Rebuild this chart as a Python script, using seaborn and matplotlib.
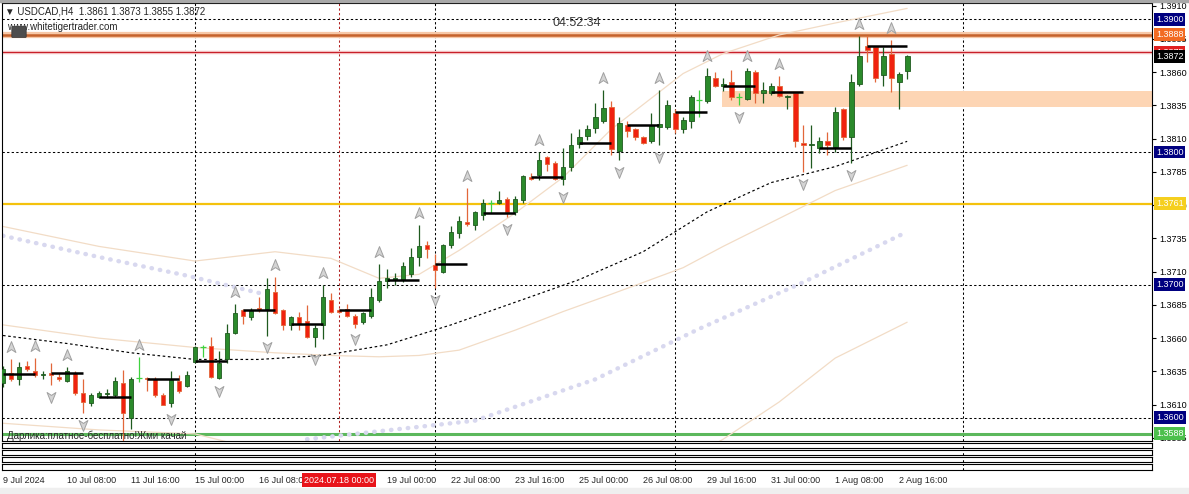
import numpy as np
import matplotlib
matplotlib.use("Agg")
import matplotlib.pyplot as plt
import seaborn as sns
from matplotlib.path import Path
from matplotlib.patches import Rectangle, FancyBboxPatch

# --- data (USDCAD H4, 9 Jul - 2 Aug 2024) ---
opens = [1.3626, 1.3634, 1.3629, 1.3639, 1.3635, 1.3632, 1.3634, 1.3631, 1.3628, 1.3634,
         1.3619, 1.3611, 1.3616, 1.3618, 1.3617, 1.3626, 1.3600, 1.3630, 1.3630, 1.3629,
         1.3617, 1.3611, 1.3628, 1.3624, 1.3642, 1.3653, 1.3654, 1.3630, 1.3644, 1.3664,
         1.3681, 1.3676, 1.3683, 1.3682, 1.3695, 1.3681, 1.3670, 1.3676, 1.3673, 1.3661,
         1.3670, 1.3689, 1.3681, 1.3682, 1.3677, 1.3672, 1.3677, 1.3689, 1.3703, 1.3704,
         1.3704, 1.3708, 1.3721, 1.3730, 1.3715, 1.3710, 1.3730, 1.3739, 1.3747, 1.3745,
         1.3753, 1.3762, 1.3762, 1.3765, 1.3755, 1.3764, 1.3781, 1.3783, 1.3796, 1.3792,
         1.3780, 1.3789, 1.3806, 1.3812, 1.3818, 1.3823, 1.3834, 1.3801, 1.3820, 1.3817,
         1.3811, 1.3808, 1.3819, 1.3819, 1.3829, 1.3817, 1.3823, 1.3839, 1.3838, 1.3856,
         1.3850, 1.3853, 1.3841, 1.3840, 1.3860, 1.3844, 1.3844, 1.3850, 1.3841, 1.3844,
         1.3807, 1.3805, 1.3803, 1.3808, 1.3804, 1.3832, 1.3811, 1.3851, 1.3880, 1.3879,
         1.3858, 1.3874, 1.3853, 1.3861]
highs = [1.3639, 1.3644, 1.3642, 1.3643, 1.3645, 1.3635, 1.3641, 1.3634, 1.3638, 1.3635,
         1.3629, 1.3619, 1.3620, 1.3622, 1.3631, 1.3636, 1.3631, 1.3646, 1.3631, 1.3631,
         1.3619, 1.3635, 1.3632, 1.3635, 1.3654, 1.3655, 1.3661, 1.3650, 1.3671, 1.3686,
         1.3682, 1.3683, 1.3691, 1.3705, 1.3706, 1.3682, 1.3677, 1.3680, 1.3685, 1.3670,
         1.3700, 1.3694, 1.3682, 1.3686, 1.3678, 1.3680, 1.3698, 1.3716, 1.3712, 1.3709,
         1.3717, 1.3728, 1.3745, 1.3733, 1.3723, 1.3731, 1.3744, 1.3752, 1.3773, 1.3756,
         1.3765, 1.3764, 1.3771, 1.3766, 1.3767, 1.3783, 1.3784, 1.3800, 1.3797, 1.3793,
         1.3803, 1.3814, 1.3817, 1.3820, 1.3837, 1.3847, 1.3838, 1.3826, 1.3823, 1.3818,
         1.3812, 1.3829, 1.3847, 1.3839, 1.3832, 1.3826, 1.3843, 1.3847, 1.3863, 1.3860,
         1.3856, 1.3862, 1.3844, 1.3863, 1.3862, 1.3853, 1.3852, 1.3857, 1.3843, 1.3845,
         1.3820, 1.3820, 1.3811, 1.3815, 1.3834, 1.3833, 1.3859, 1.3887, 1.3887, 1.3880,
         1.3879, 1.3884, 1.3860, 1.3873]
lows = [1.3623, 1.3628, 1.3625, 1.3635, 1.3631, 1.3629, 1.3625, 1.3628, 1.3627, 1.3617,
        1.3604, 1.3609, 1.3615, 1.3615, 1.3616, 1.3582, 1.3592, 1.3627, 1.3620, 1.3616,
        1.3611, 1.3608, 1.3619, 1.3623, 1.3641, 1.3646, 1.3630, 1.3629, 1.3641, 1.3663,
        1.3671, 1.3674, 1.3680, 1.3662, 1.3678, 1.3666, 1.3666, 1.3666, 1.3660, 1.3653,
        1.3659, 1.3679, 1.3679, 1.3676, 1.3668, 1.3671, 1.3675, 1.3687, 1.3698, 1.3700,
        1.3702, 1.3706, 1.3714, 1.3720, 1.3698, 1.3709, 1.3728, 1.3735, 1.3744, 1.3741,
        1.3749, 1.3754, 1.3761, 1.3751, 1.3753, 1.3762, 1.3779, 1.3779, 1.3786, 1.3779,
        1.3775, 1.3786, 1.3803, 1.3809, 1.3814, 1.3822, 1.3798, 1.3794, 1.3811, 1.3809,
        1.3806, 1.3807, 1.3805, 1.3817, 1.3814, 1.3814, 1.3818, 1.3826, 1.3837, 1.3849,
        1.3846, 1.3839, 1.3835, 1.3839, 1.3837, 1.3837, 1.3843, 1.3841, 1.3832, 1.3804,
        1.3785, 1.3788, 1.3799, 1.3798, 1.3800, 1.3809, 1.3792, 1.3850, 1.3868, 1.3853,
        1.3850, 1.3845, 1.3832, 1.3855]
closes = [1.3637, 1.3629, 1.3638, 1.3637, 1.3632, 1.3633, 1.3632, 1.3629, 1.3635, 1.3619,
          1.3612, 1.3617, 1.3619, 1.3619, 1.3628, 1.3604, 1.3629, 1.3630, 1.3629, 1.3617,
          1.3610, 1.3629, 1.3620, 1.3632, 1.3653, 1.3653, 1.3631, 1.3641, 1.3664, 1.3679,
          1.3677, 1.3681, 1.3681, 1.3697, 1.3679, 1.3670, 1.3676, 1.3671, 1.3661, 1.3668,
          1.3691, 1.3680, 1.3680, 1.3677, 1.3671, 1.3679, 1.3691, 1.3703, 1.3705, 1.3705,
          1.3714, 1.3721, 1.3729, 1.3727, 1.3711, 1.3730, 1.3740, 1.3748, 1.3746, 1.3755,
          1.3762, 1.3762, 1.3764, 1.3755, 1.3765, 1.3782, 1.3780, 1.3794, 1.3791, 1.3780,
          1.3789, 1.3805, 1.3811, 1.3817, 1.3826, 1.3833, 1.3802, 1.3822, 1.3816, 1.3811,
          1.3807, 1.3820, 1.3821, 1.3835, 1.3817, 1.3824, 1.3841, 1.3839, 1.3857, 1.3850,
          1.3851, 1.3841, 1.3841, 1.3861, 1.3844, 1.3847, 1.3850, 1.3842, 1.3842, 1.3808,
          1.3805, 1.3806, 1.3808, 1.3805, 1.3830, 1.3811, 1.3853, 1.3872, 1.3877, 1.3856,
          1.3872, 1.3856, 1.3859, 1.3872]

# daily open segments (black bars)
day_start_bars = [0, 6, 12, 18, 24, 30, 36, 42, 48, 54, 60, 66, 72, 78, 84, 90, 96, 102, 108]
day_open_levels = [1.3633, 1.3634, 1.3616, 1.3629, 1.3643, 1.3681, 1.3671, 1.3681, 1.3704, 1.3716,
                   1.3754, 1.3781, 1.3807, 1.3820, 1.3830, 1.3850, 1.3845, 1.3803, 1.3880]

# fractal arrows
up_fractal_bars = [1, 4, 8, 17, 29, 34, 40, 47, 52, 58, 67, 75, 82, 88, 93, 97, 107, 111]
down_fractal_bars = [6, 10, 15, 21, 27, 33, 39, 44, 54, 63, 70, 77, 82, 92, 100, 106]

# slow moving average (black dashed)
ma_bars = [0, 8, 16, 24, 32, 40, 48, 56, 64, 72, 80, 88, 96, 104, 113]
ma_values = [1.3662, 1.3656, 1.3649, 1.3644, 1.3644, 1.3647, 1.3655, 1.3670, 1.3687, 1.3704,
             1.3725, 1.3755, 1.3777, 1.3789, 1.3808]

# bollinger style bands (thin beige)
band_bars = [0, 12, 24, 34, 41, 47, 52, 57, 64, 70, 76, 85, 90, 97, 104, 113]
band_upper = [1.3744, 1.3729, 1.3718, 1.3725, 1.3720, 1.3705, 1.3708, 1.3726, 1.3754, 1.3781,
              1.3817, 1.3859, 1.3874, 1.3888, 1.3897, 1.3908]
band_middle = [1.3670, 1.3660, 1.3653, 1.3649, 1.3647, 1.3646, 1.3647, 1.3651, 1.3666, 1.3680,
               1.3693, 1.3713, 1.3729, 1.3750, 1.3771, 1.3790]
band_lower = [1.3596, 1.3591, 1.3588, 1.3573, 1.3574, 1.3580, 1.3580, 1.3576, 1.3578, 1.3579,
              1.3569, 1.3567, 1.3584, 1.3612, 1.3645, 1.3672]

# lavender dotted envelope
dots_left_bars = [0, 12, 23, 32]
dots_left_values = [1.3737, 1.3721, 1.3707, 1.3694]
dots_right_bars = [38, 50, 59, 74, 87, 100, 113]
dots_right_values = [1.3584, 1.3592, 1.3598, 1.3629, 1.3667, 1.3702, 1.3740]

# horizontal levels
grid_prices = [1.3600, 1.3700, 1.3800, 1.3900]
resistance_price = 1.3888
red_line_price = 1.3875
yellow_price = 1.3761
green_price = 1.3588
last_price = 1.3872
zone_low, zone_high, zone_start = 1.3834, 1.3846, 89.9

axis_prices = [1.3585, 1.3610, 1.3635, 1.3660, 1.3685, 1.3710, 1.3735, 1.3760, 1.3785,
               1.3810, 1.3835, 1.3860, 1.3885, 1.3910]

tick_bars = [0, 8, 16, 24, 32, 40, 48, 56, 64, 72, 80, 88, 96, 104, 112]
tick_labels = ["9 Jul 2024", "10 Jul 08:00", "11 Jul 16:00", "15 Jul 00:00", "16 Jul 08:00",
               "17 Jul 16:00", "19 Jul 00:00", "22 Jul 08:00", "23 Jul 16:00", "25 Jul 00:00",
               "26 Jul 08:00", "29 Jul 16:00", "31 Jul 00:00", "1 Aug 08:00", "2 Aug 16:00"]
separator_bars = [24, 54, 84, 120]
cursor_bar = 42
cursor_label = "2024.07.18 00:00"

# --- style ---
sns.set_theme(style="white")
plt.rcParams["font.family"] = ["Liberation Sans", "DejaVu Sans"]

W, H = 1189, 494
def pbox(l, t, r, b):
    return [l / W, 1 - b / H, (r - l) / W, (b - t) / H]

XLIM = (-0.125, 143.6)
YLIM = (1.358267, 1.391205)

fig = plt.figure(figsize=(W / 100, H / 100), dpi=100)
fig.patches.append(Rectangle((0, 1 - 2 / H), 1, 2 / H, transform=fig.transFigure,
                             color="#a8a8a8", zorder=0))
fig.patches.append(Rectangle((0, 0), 1, 6 / H, transform=fig.transFigure,
                             color="#efefef", zorder=0))

ax = fig.add_axes(pbox(2, 3, 1152, 441))
ax.set_xlim(*XLIM)
ax.set_ylim(*YLIM)
for s in ax.spines.values():
    s.set_color("black")
    s.set_linewidth(0.8)
ax.set_xticks([])

# right price axis
ax.yaxis.tick_right()
ax.set_yticks(axis_prices)
ax.set_yticklabels([f"{p:.4f}" for p in axis_prices])
ax.tick_params(axis="y", direction="out", length=3, width=0.8, pad=2, labelsize=6.5,
               colors="black")

# grid + separators
dash = (0, (2.2, 2.2))
for p in grid_prices:
    ax.axhline(p, color="black", lw=0.75, ls=dash, zorder=1)
for b in separator_bars:
    ax.axvline(b, color="black", lw=0.75, ls=dash, zorder=1)
ax.axvline(cursor_bar, color="#b22222", lw=0.75, ls=dash, zorder=1)

# demand zone
ax.add_patch(Rectangle((zone_start, zone_low), XLIM[1] - zone_start, zone_high - zone_low,
                       color="#fdd5b4", lw=0, zorder=1))

# levels
ax.axhline(resistance_price, color="#f7c8a8", lw=4.5, zorder=1.5)
ax.axhline(resistance_price, color="#c5622c", lw=1.8, zorder=1.6)
ax.axhline(red_line_price, color="#f5c6c6", lw=2.5, zorder=1.5)
ax.axhline(red_line_price, color="#c8202a", lw=0.8, zorder=1.6)
ax.axhline(yellow_price, color="#f4c20d", lw=1.6, zorder=1.6)
ax.axhline(green_price, color="#5cb85c", lw=2.2, zorder=1.6)

# indicator lines
sns.lineplot(x=band_bars, y=band_upper, ax=ax, color="#f2dcc6", lw=0.9, zorder=2)
sns.lineplot(x=band_bars, y=band_middle, ax=ax, color="#f2dcc6", lw=0.9, zorder=2)
sns.lineplot(x=band_bars, y=band_lower, ax=ax, color="#f2dcc6", lw=0.9, zorder=2)
for bx, by in ((dots_left_bars, dots_left_values), (dots_right_bars, dots_right_values)):
    ax.plot(bx, by, color="#d8d8ef", lw=3.2, ls=(0, (0.1, 1.8)), dash_capstyle="round",
            zorder=2)
sns.lineplot(x=ma_bars, y=ma_values, ax=ax, color="black", lw=0.85, ls=dash, zorder=3)

# candles
x = np.arange(len(opens))
o, h, l, c = (np.array(v) for v in (opens, highs, lows, closes))
up, dn, dj = c > o, c < o, c == o
ax.vlines(x[up], l[up], h[up], color="#1f5a1f", lw=0.9, zorder=4)
ax.bar(x[up], c[up] - o[up], bottom=o[up], width=0.6, color="#2b8a2b",
       edgecolor="#1f5a1f", lw=0.6, zorder=5)
ax.vlines(x[dn], l[dn], h[dn], color="#e2673a", lw=0.9, zorder=4)
ax.bar(x[dn], o[dn] - c[dn], bottom=c[dn], width=0.6, color="#f0220f",
       edgecolor="#e2673a", lw=0.6, zorder=5)
ax.vlines(x[dj], l[dj], h[dj], color="#3fd23f", lw=0.9, zorder=4)
ax.hlines(c[dj], x[dj] - 0.35, x[dj] + 0.35, color="#3fd23f", lw=0.9, zorder=5)

# daily open bars
ends = [min(b + 4, len(opens) - 1) if b < 108 else len(opens) - 1 for b in day_start_bars]
ax.hlines(day_open_levels, day_start_bars, ends, color="black", lw=1.8, zorder=6)

# fractals
up_mark = Path([(0, 1), (0.75, -0.85), (0, -0.35), (-0.75, -0.85), (0, 1)],
               [Path.MOVETO, Path.LINETO, Path.LINETO, Path.LINETO, Path.CLOSEPOLY])
dn_mark = Path([(0, -1), (0.75, 0.85), (0, 0.35), (-0.75, 0.85), (0, -1)],
               [Path.MOVETO, Path.LINETO, Path.LINETO, Path.LINETO, Path.CLOSEPOLY])
ax.plot(up_fractal_bars, h[up_fractal_bars] + 0.0009, ls="none", marker=up_mark, ms=8.5,
        mfc="#d4d4d4", mec="#a0a0a0", mew=0.7, zorder=6)
ax.plot(down_fractal_bars, l[down_fractal_bars] - 0.0009, ls="none", marker=dn_mark, ms=8.5,
        mfc="#d4d4d4", mec="#a0a0a0", mew=0.7, zorder=6)

# price boxes on right axis
ytr = ax.get_yaxis_transform()
def price_box(p, face, fg="white"):
    ax.text(1.0 + 4 / 1150, p, f"{p:.4f}", transform=ytr, ha="left", va="center",
            fontsize=6.5, color=fg, clip_on=False, zorder=10,
            bbox=dict(boxstyle="square,pad=0.22", fc=face, ec="none"))
for p in grid_prices:
    price_box(p, "#000080")
price_box(resistance_price, "#f26b22")
price_box(red_line_price, "#e02020")
price_box(last_price, "black")
price_box(yellow_price, "#f5cf1f")
price_box(green_price, "#4cc04c")

# texts
ax.text(3 / 1150, 1 - 9 / 438, "\u25bc USDCAD,H4  1.3861 1.3873 1.3855 1.3872",
        transform=ax.transAxes, fontsize=7, va="center", ha="left", zorder=11,
        family=["Liberation Sans", "DejaVu Sans"])
ax.text(5 / 1150, 1 - 24 / 438, "www.whitetigertrader.com", transform=ax.transAxes,
        fontsize=7, va="center", ha="left", zorder=11)
fig.patches.append(FancyBboxPatch((13 / W, 1 - 37 / H), 12 / W, 10 / H,
                                  boxstyle="round,pad=0.001", transform=fig.transFigure,
                                  fc="#4d4d4d", ec="#333333", lw=0.5, zorder=12))
ax.text(575 / 1150, 1 - 20 / 438, "04:52:34", transform=ax.transAxes, fontsize=9,
        color="#3a3a3a", ha="center", va="center", zorder=11)
ax.text(5 / 1150, 0.5 / 438, "Дарлика:платное-бесплатно!Жми качай", transform=ax.transAxes,
        fontsize=7, va="bottom", ha="left", zorder=11)

# empty indicator panes below
pane_rows = [(443, 448), (450, 455), (457, 462), (464, 470)]
for i, (t, b) in enumerate(pane_rows):
    sub = fig.add_axes(pbox(2, t, 1152, b))
    sub.set_xlim(*XLIM)
    sub.set_yticks([])
    for s in sub.spines.values():
        s.set_color("black")
        s.set_linewidth(0.8)
    for sb in separator_bars:
        sub.axvline(sb, color="black", lw=0.75, ls=dash)
    if i < len(pane_rows) - 1:
        sub.set_xticks([])
    else:
        sub.set_xticks(tick_bars)
        sub.set_xticklabels([])
        sub.tick_params(axis="x", direction="out", length=3, width=0.8, colors="black")
        xtr = sub.get_xaxis_transform()
        for b, lab in zip(tick_bars, tick_labels):
            sub.text(b, -10 / 6, lab, transform=xtr, fontsize=6.5, ha="left", va="center",
                     clip_on=False)
        sub.text(cursor_bar, -10 / 6, cursor_label, transform=xtr, fontsize=6.5,
                 ha="center", va="center", color="white", clip_on=False, zorder=10,
                 bbox=dict(boxstyle="square,pad=0.25", fc="#e8141a", ec="none"))

fig.savefig("out.png", dpi=100, facecolor="white")
